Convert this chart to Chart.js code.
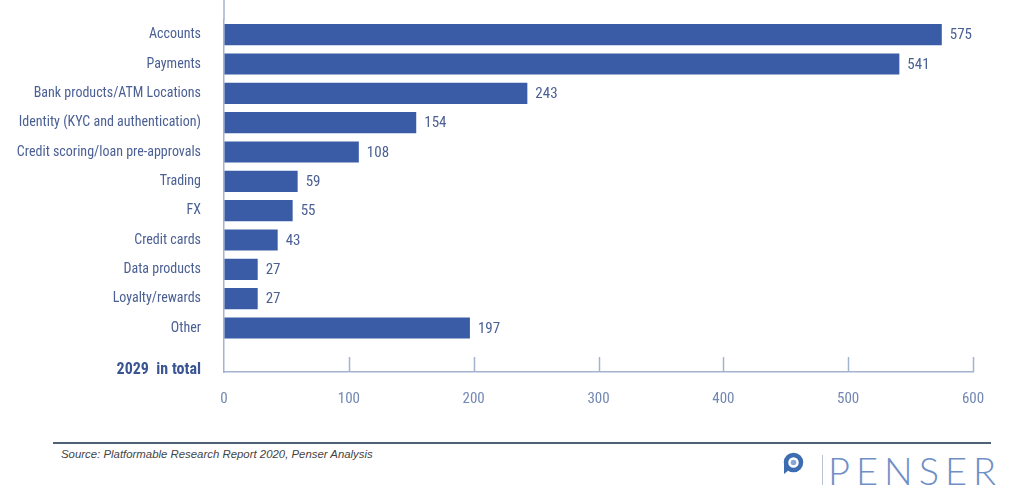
<!DOCTYPE html>
<html>
<head>
<meta charset="utf-8">
<script src="https://cdn.jsdelivr.net/npm/chart.js@4.4.0/dist/chart.umd.min.js"></script>
<style>
  html, body { margin: 0; padding: 0; background: #fff; }
  #wrap { position: absolute; left: 0; top: 0; width: 1024px; height: 420px; }
  .rule { position: absolute; left: 53px; top: 442px; width: 938px; border-top: 2px solid #4f6275; }
  .source { position: absolute; left: 61px; top: 448px; font: italic 11.4px "Liberation Sans", sans-serif; color: #444; }
  .icon { position: absolute; left: 783px; top: 452px; }
  .sep { position: absolute; left: 822px; top: 455px; width: 1px; height: 30px; background: #b8c2d2; }
  .name { position: absolute; left: 828px; top: 451px; font: 300 38px Lato, "Open Sans", sans-serif; color: #6f8fc6; letter-spacing: 6px; line-height: 1; }
</style>
</head>
<body>
<div id="wrap"><canvas id="chart"></canvas></div>
<div class="rule"></div>
<div class="source">Source: Platformable Research Report 2020, Penser Analysis</div>
<svg class="icon" width="21" height="23" viewBox="0 0 21 23">
  <circle cx="10.5" cy="10.5" r="7.5" fill="none" stroke="#3d6cb0" stroke-width="4.5"/>
  <circle cx="10.5" cy="10.5" r="2.8" fill="#86a6d6"/>
  <path d="M1 11 L1 22 L6 18 Z" fill="#3d6cb0"/>
</svg>
<div class="sep"></div>
<div class="name">PENSER</div>
<script>
// données
const categories = [
  "Accounts",
  "Payments",
  "Bank products/ATM Locations",
  "Identity (KYC and authentication)",
  "Credit scoring/loan pre-approvals",
  "Trading",
  "FX",
  "Credit cards",
  "Data products",
  "Loyalty/rewards",
  "Other",
];
const counts = [575, 541, 243, 154, 108, 59, 55, 43, 27, 27, 197];
const xTicks = [0, 100, 200, 300, 400, 500, 600];
const totalLabel = "2029  in total";

const labelFont = '"Liberation Sans Narrow", "Roboto Condensed", Roboto, sans-serif';
const textColor = "#4a5f94";
const axisColor = "#a3b2cf";

// lignes d'axe, petits traits, valeurs et total
const decor = {
  id: "decor",
  afterDatasetsDraw(chart) {
    const { ctx, chartArea, scales: { x } } = chart;
    ctx.save();
    ctx.strokeStyle = axisColor;
    ctx.lineWidth = 1.5;
    ctx.beginPath();
    ctx.moveTo(chartArea.left, 0);
    ctx.lineTo(chartArea.left, chartArea.top);
    xTicks.forEach((v) => {
      if (v === 0) return;
      const px = Math.round(x.getPixelForValue(v)) + 0.5;
      ctx.moveTo(px, chartArea.bottom);
      ctx.lineTo(px, chartArea.bottom - 15);
    });
    ctx.stroke();

    const meta = chart.getDatasetMeta(0);
    ctx.font = "15px " + labelFont;
    ctx.fillStyle = textColor;
    ctx.textBaseline = "middle";
    ctx.textAlign = "left";
    meta.data.forEach((bar, i) => {
      if (counts[i] == null) return;
      ctx.fillText(String(counts[i]), bar.x + 8, bar.y + 1);
    });

    ctx.font = "bold 16px " + labelFont;
    ctx.fillStyle = "#3b5592";
    ctx.textAlign = "right";
    ctx.fillText(totalLabel, chartArea.left - 23, chartArea.bottom - 2);
    ctx.restore();
  },
};

const ctx = document.getElementById("chart").getContext("2d");
new Chart(ctx, {
  type: "bar",
  data: {
    labels: [...categories, ""],
    datasets: [
      {
        data: [...counts, null],
        backgroundColor: "#3a5ca6",
        borderColor: "#3a5ca6",
        barPercentage: 0.72,
        categoryPercentage: 1,
      },
    ],
  },
  options: {
    indexAxis: "y",
    responsive: true,
    maintainAspectRatio: false,
    animation: false,
    layout: { padding: { top: 20, right: 51, left: 0, bottom: 0 } },
    plugins: {
      legend: { display: false },
      tooltip: { enabled: false },
    },
    scales: {
      y: {
        afterFit: (s) => {
          s.width = 224;
          s.paddingTop = 0;
          s.paddingBottom = 0;
        },
        grid: { drawOnChartArea: false, drawTicks: false },
        border: { color: axisColor, width: 1.5 },
        ticks: {
          padding: 23,
          color: textColor,
          font: { family: labelFont, size: 14 },
        },
      },
      x: {
        min: 0,
        max: 600,
        afterFit: (s) => { s.height = 48; },
        afterBuildTicks: (s) => { s.ticks = xTicks.map((v) => ({ value: v })); },
        grid: { drawOnChartArea: false, drawTicks: false },
        border: { color: axisColor, width: 1.5 },
        ticks: {
          padding: 18,
          color: "#7287b2",
          font: { family: labelFont, size: 15 },
        },
      },
    },
  },
  plugins: [decor],
});
</script>
</body>
</html>
